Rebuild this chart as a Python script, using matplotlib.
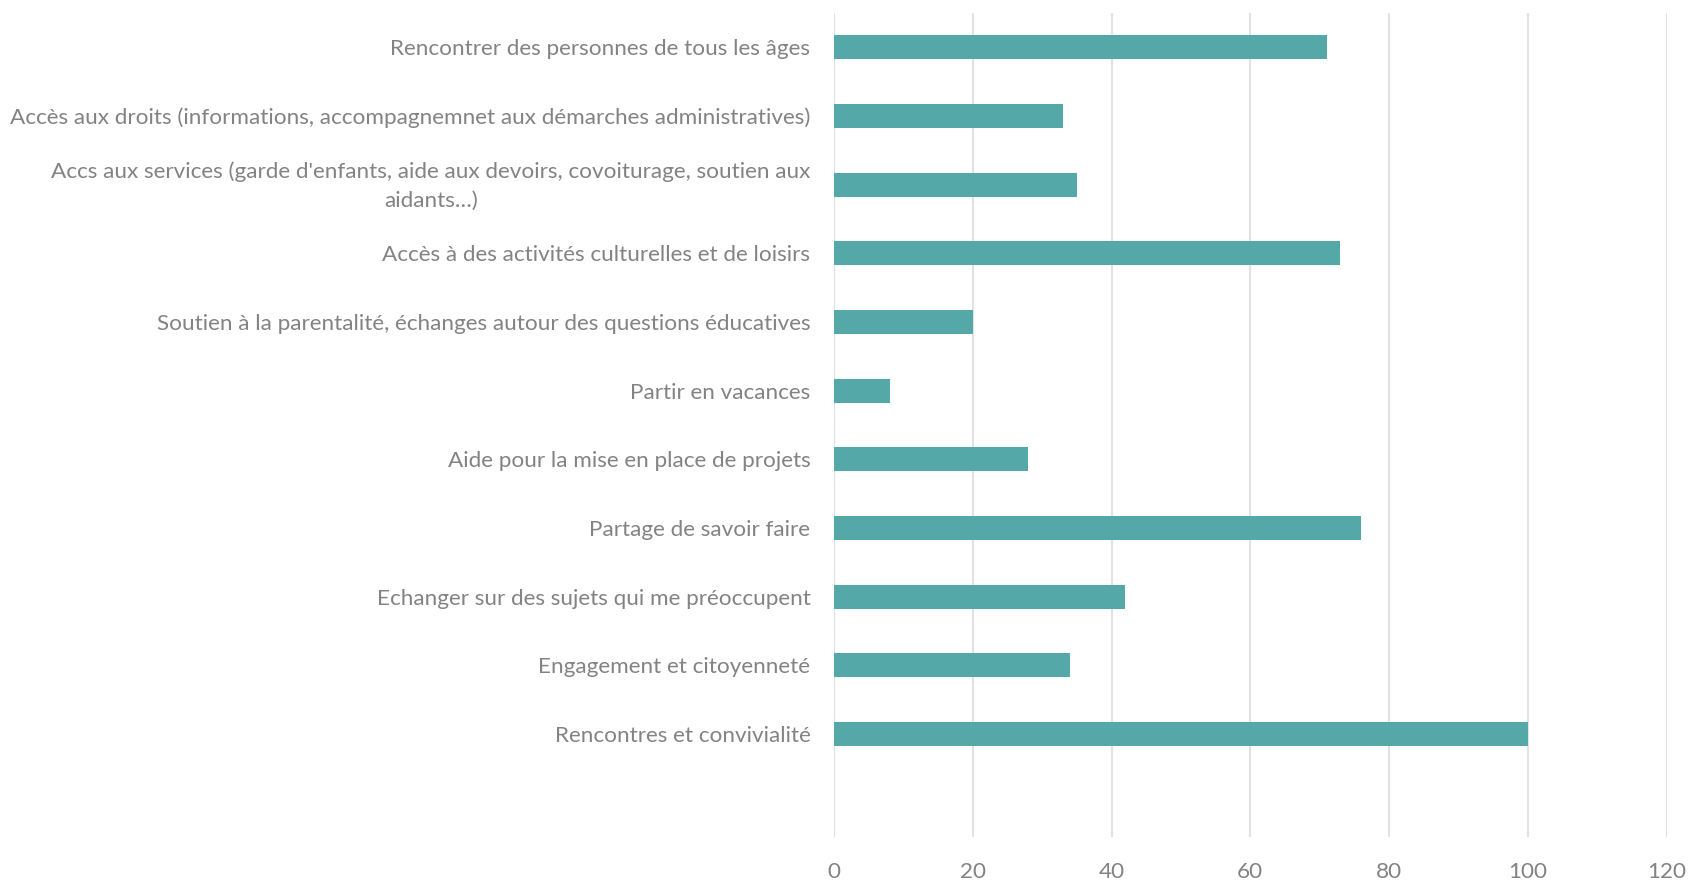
import matplotlib
matplotlib.use("Agg")
import matplotlib.pyplot as plt
import matplotlib.transforms as mtransforms

categories = [
    "Rencontrer des personnes de tous les âges",
    "Accès aux droits (informations, accompagnemnet aux démarches administratives)",
    "Accs aux services (garde d'enfants, aide aux devoirs, covoiturage, soutien aux\naidants…)",
    "Accès à des activités culturelles et de loisirs",
    "Soutien à la parentalité, échanges autour des questions éducatives",
    "Partir en vacances",
    "Aide pour la mise en place de projets",
    "Partage de savoir faire",
    "Echanger sur des sujets qui me préoccupent",
    "Engagement et citoyenneté",
    "Rencontres et convivialité",
    "",
]
values = [71, 33, 35, 73, 20, 8, 28, 76, 42, 34, 100, None]
xticks = [0, 20, 40, 60, 80, 100, 120]

bar_color = "#55A8A8"
text_color = "#838383"
grid_color = "#e2e2e2"

plt.rcParams['font.family'] = ['Lato', 'DejaVu Sans']

fig = plt.figure(figsize=(16.88, 8.81), dpi=100)
ax = fig.add_axes([834/1688, 1 - 837/881, (1666.5 - 834)/1688, (837 - 13)/881])

pos = list(range(len(categories)))
for p, v in zip(pos, values):
    if v is not None:
        ax.barh(p, v, height=0.345, color=bar_color, zorder=3)

ax.set_ylim(len(categories) - 0.5, -0.5)
ax.set_xlim(0, 120)
ax.set_xticks(xticks)
ax.set_xticklabels([str(t) for t in xticks])
ax.set_yticks(pos)
ax.set_yticklabels(categories)

fs = 14.5
for lbl in ax.get_yticklabels():
    lbl.set_multialignment('center')
    lbl.set_linespacing(1.55)
    lbl.set_fontsize(fs)
    lbl.set_color(text_color)
for lbl in ax.get_xticklabels():
    lbl.set_fontsize(fs)
    lbl.set_color(text_color)

ax.tick_params(axis='both', length=0)
ax.tick_params(axis='y', pad=17)
ax.tick_params(axis='x', pad=18)
for s in ax.spines.values():
    s.set_visible(False)
ax.xaxis.grid(True, color=grid_color, linewidth=1.5, zorder=0)
ax.yaxis.grid(False)
ax.set_axisbelow(True)

# fit font size so longest label matches reference width (~797 px)
fig.canvas.draw()
r = fig.canvas.get_renderer()
w = ax.get_yticklabels()[1].get_window_extent(r).width
fs2 = fs * 797 / w
for lbl in ax.get_yticklabels() + ax.get_xticklabels():
    lbl.set_fontsize(fs2)

# nudge the two-line label upward so its lines sit around the bar centre
wrapped = ax.get_yticklabels()[2]
wrapped.set_transform(wrapped.get_transform() +
                      mtransforms.ScaledTranslation(0, 5/100, fig.dpi_scale_trans))

fig.savefig("out.png", dpi=100, facecolor="white")
